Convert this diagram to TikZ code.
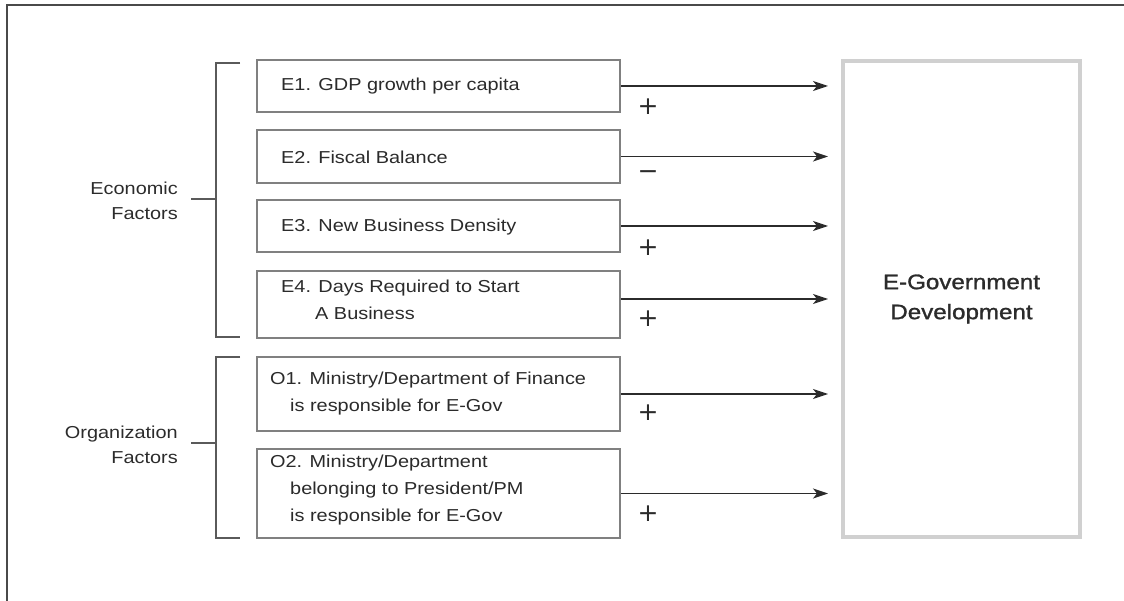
\documentclass[tikz,border=0pt]{standalone}
\usepackage{fontspec}
\setmainfont[FakeStretch=1.15]{Liberation Sans}
\newfontfamily\headfont[FakeStretch=1.15,FakeBold=1.3]{Liberation Sans}
\newfontfamily\signfont{DejaVu Sans}
\usetikzlibrary{arrows.meta,calc}

\definecolor{ink}{HTML}{2B2B2B}
\definecolor{boxline}{HTML}{808080}
\definecolor{bracket}{HTML}{5A5A5A}
\definecolor{govline}{HTML}{D0D0D0}
\definecolor{frameline}{HTML}{4A4A4A}

\tikzset{
  factor/.style={draw=boxline, line width=2pt, minimum width=363pt, inner sep=0pt, fill=white},
  ftext/.style={anchor=west, align=left, inner sep=0pt, text=ink, font=\fontsize{17.3}{27}\selectfont},
  grp/.style={anchor=east, align=right, inner sep=0pt, text=ink, font=\fontsize{17.3}{25}\selectfont},
  sign/.style={inner sep=0pt, text=ink, font=\signfont\fontsize{25}{25}\selectfont},
  link/.style={draw=ink, line width=1.3pt, -{Stealth[length=15pt,width=10pt,inset=4pt]}, shorten >=13pt},
  brace/.style={draw=bracket, line width=1.3pt},
  frame/.style={draw=frameline, line width=1.5pt}
}

\begin{document}
\begin{tikzpicture}[x=1pt,y=-1pt]
\useasboundingbox (0,0) rectangle (1124,601);

% outer frame (top and left edges)
\draw[frame] (7,601) -- (7,5) -- (1124,5);

% target box
\node[draw=govline, line width=4pt, minimum width=237pt, minimum height=476pt,
      align=center, text=ink, font=\headfont\fontsize{21}{30}\selectfont] (gov) at (961.5,299)
      {E-Government\\Development};

% factor boxes
\node[factor, minimum height=52pt] (e1) at (438.5,86) {};
\node[factor, minimum height=53pt] (e2) at (438.5,156.5) {};
\node[factor, minimum height=52pt] (e3) at (438.5,226) {};
\node[factor, minimum height=67pt] (e4) at (438.5,304.5) {};
\node[factor, minimum height=74pt] (o1) at (438.5,394) {};
\node[factor, minimum height=89pt] (o2) at (438.5,493.5) {};

% factor texts
\node[ftext] (e1t) at (281,86) {E1. GDP growth per capita};
\node[ftext] (e2t) at (281,157) {E2. Fiscal Balance};
\node[ftext] (e3t) at (281,227) {E3. New Business Density};
\node[ftext] (e4t) at (281,300) {E4. Days Required to Start\\\hspace*{34pt}A Business};
\node[ftext] (o1t) at (270,394) {O1. Ministry/Department of Finance\\\hspace*{20pt}is responsible for E-Gov};
\node[ftext] (o2t) at (270,490) {O2. Ministry/Department\\\hspace*{20pt}belonging to President/PM\\\hspace*{20pt}is responsible for E-Gov};

% effects on the target
\draw[link] (e1.east) -- (e1.east -| gov.west);
\draw[link] (e2.east) -- (e2.east -| gov.west);
\draw[link] (e3.east) -- (e3.east -| gov.west);
\draw[link] ([yshift=5.5pt]e4.east) -- ([yshift=5.5pt]e4.east -| gov.west);
\draw[link] (o1.east) -- (o1.east -| gov.west);
\draw[link] (o2.east) -- (o2.east -| gov.west);

% signs of the effects
\node[sign] (s1) at (648,107) {+};
\node[sign] (s2) at (648,175) {−};
\node[sign] (s3) at (648,248) {+};
\node[sign] (s4) at (648,319) {+};
\node[sign] (s5) at (648,413) {+};
\node[sign] (s6) at (648,514) {+};

% group labels
\node[grp] (econ) at (178,201) {Economic\\Factors};
\node[grp] (org) at (178,444.5) {Organization\\Factors};

% group brackets
\draw[brace] (240,63) -- (216,63) -- (216,337) -- (240,337);
\coordinate (econtick) at (216,199);
\draw[brace] (econtick) -- ++(-25,0);
\draw[brace] (240,357) -- (216,357) -- (216,538) -- (240,538);
\coordinate (orgtick) at (216,443);
\draw[brace] (orgtick) -- ++(-25,0);
\end{tikzpicture}
\end{document}
